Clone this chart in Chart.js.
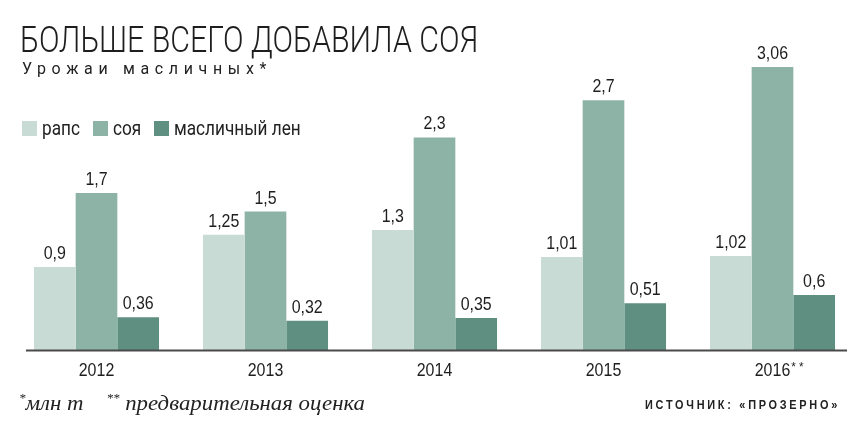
<!DOCTYPE html>
<html>
<head>
<meta charset="utf-8">
<script src="https://cdn.jsdelivr.net/npm/chart.js@4.4.1/dist/chart.umd.min.js"></script>
<style>
  html, body { margin: 0; padding: 0; background: #fff; }
  #wrap { position: relative; width: 858px; height: 438px; overflow: hidden; }
  #chart { position: absolute; left: 0; top: 0; }
  .fit { position: absolute; white-space: nowrap; transform-origin: 0 0; }
  #title { left: 20px; top: 19px; font: 300 36px Roboto, sans-serif; color: #1e1e1e; }
  #subtitle { left: 22px; top: 58px; font: 400 17px Roboto, sans-serif; color: #222; letter-spacing: 6px; }
  .legend { position: absolute; top: 116px; font: 400 20px Roboto, sans-serif; color: #222; white-space: nowrap; transform-origin: 0 0; }
  .legend i { position: absolute; top: 5px; width: 15px; height: 15px; }
  #note { left: 19px; top: 391px; font: italic 21px "Liberation Serif", serif; color: #222; }
  #note sup { font-size: 12px; vertical-align: 8px; }
  #source { left: 645px; top: 398px; font: 700 12px "Liberation Sans", sans-serif; color: #222; letter-spacing: 3px; }
</style>
</head>
<body>
<div id="wrap">
  <canvas id="chart" width="858" height="438"></canvas>
  <div id="title" class="fit" data-w="458">БОЛЬШЕ ВСЕГО ДОБАВИЛА СОЯ</div>
  <div id="subtitle" class="fit" data-w="250">Урожаи масличных*</div>
  <div id="legend"></div>
  <div id="note" class="fit" data-w="346"><sup>*</sup>млн т&nbsp;&nbsp;&nbsp;&nbsp;<sup>**</sup> предварительная оценка</div>
  <div id="source" class="fit" data-w="195">ИСТОЧНИК: «ПРОЗЕРНО»</div>
</div>
<script>
const years = ['2012', '2013', '2014', '2015', '2016**'];
const seriesNames = ['рапс', 'соя', 'масличный лен'];
const rapeseed = [0.9, 1.25, 1.3, 1.01, 1.02];
const soy = [1.7, 1.5, 2.3, 2.7, 3.06];
const flax = [0.36, 0.32, 0.35, 0.51, 0.6];
const colors = ['#c8dbd5', '#8db2a6', '#5f8f80'];

// squeeze html text to the widths measured on the reference
document.querySelectorAll('.fit').forEach(el => {
    const w = el.getBoundingClientRect().width;
    el.style.transform = 'scaleX(' + (Number(el.dataset.w) / w) + ')';
});

// legend, laid out by hand like the original
const legendX = [22, 93, 154];
const legendBox = document.getElementById('legend');
seriesNames.forEach((name, i) => {
    const item = document.createElement('div');
    item.className = 'legend';
    item.style.left = legendX[i] + 'px';
    item.innerHTML = '<i style="left:0;background:' + colors[i] + '"></i>' +
        '<span style="position:absolute;left:20px;display:inline-block;transform:scaleX(0.86);transform-origin:0 0">' + name + '</span>';
    legendBox.appendChild(item);
});

const fmt = v => String(v).replace('.', ',');

function condensedText(ctx, text, x, y, scale) {
    ctx.save();
    ctx.translate(x, y);
    ctx.scale(scale, 1);
    ctx.fillText(text, 0, 0);
    ctx.restore();
}

const labelsPlugin = {
    id: 'labels',
    afterDatasetsDraw(chart) {
        const ctx = chart.ctx;
        const xs = chart.scales.x;
        const ys = chart.scales.y;
        const zero = ys.getPixelForValue(0);

        // baseline
        ctx.save();
        ctx.strokeStyle = '#4a4a4a';
        ctx.lineWidth = 2;
        ctx.beginPath();
        ctx.moveTo(26, zero);
        ctx.lineTo(847, zero);
        ctx.stroke();

        ctx.fillStyle = '#1e1e1e';
        ctx.textAlign = 'center';
        ctx.textBaseline = 'alphabetic';
        ctx.font = '19px "Liberation Sans", Arial, sans-serif';

        // value labels
        chart.data.datasets.forEach((ds, i) => {
            chart.getDatasetMeta(i).data.forEach((bar, j) => {
                condensedText(ctx, fmt(ds.data[j]), bar.x, bar.y - 8, 0.84);
            });
        });

        // year labels
        years.forEach((y, j) => {
            const x = xs.getPixelForValue(j);
            if (y.endsWith('**')) {
                ctx.textAlign = 'left';
                const base = y.slice(0, 4);
                const w = ctx.measureText(base).width * 0.84;
                condensedText(ctx, base, x - w / 2, zero + 25, 0.84);
                ctx.font = '13px "Liberation Sans", Arial, sans-serif';
                condensedText(ctx, '* *', x + w / 2 + 1, zero + 20, 0.9);
                ctx.font = '19px "Liberation Sans", Arial, sans-serif';
                ctx.textAlign = 'center';
            } else {
                condensedText(ctx, y, x, zero + 25, 0.84);
            }
        });
        ctx.restore();
    }
};

new Chart(document.getElementById('chart'), {
    type: 'bar',
    data: {
        labels: years,
        datasets: [
            { label: seriesNames[0], data: rapeseed, backgroundColor: colors[0] },
            { label: seriesNames[1], data: soy, backgroundColor: colors[1] },
            { label: seriesNames[2], data: flax, backgroundColor: colors[2] }
        ]
    },
    options: {
        responsive: false,
        animation: false,
        events: [],
        layout: { padding: { left: 12, right: 1, top: 54, bottom: 87.5 } },
        datasets: { bar: { categoryPercentage: 0.74, barPercentage: 1, borderWidth: 0 } },
        scales: {
            x: { display: false },
            y: { display: false, min: 0, max: 3.2 }
        },
        plugins: { legend: { display: false }, tooltip: { enabled: false } }
    },
    plugins: [labelsPlugin]
});
</script>
</body>
</html>
